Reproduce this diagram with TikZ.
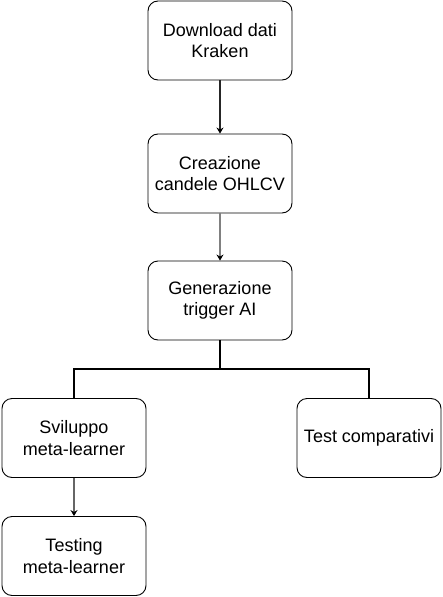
\documentclass[tikz,border=0pt]{standalone}
\usepackage{fontspec}
\setmainfont{Liberation Sans}
\usetikzlibrary{arrows.meta}

\begin{document}
\begin{tikzpicture}[x=1pt, y=-1pt,
	box/.style={draw, line width=0.9pt, rounded corners=10pt, minimum width=144pt, minimum height=79pt, align=center, inner sep=0pt, font=\fontsize{18}{21.5}\selectfont},
	link/.style={line width=1.6pt, arrows={-{Stealth[length=6pt,width=7pt,color=black]}}}]
	\useasboundingbox (0,0) rectangle (442,597);
	\node [box] (kraken) at (220,40.5) {Download dati\\Kraken};
	\node [box] (ohlcv) at (220,173.5) {Creazione\\candele OHLCV};
	\node [box] (trigger) at (220,300.5) {Generazione\\trigger AI};
	\node [box] (meta) at (74,438) {Sviluppo\\meta-learner};
	\node [box] (compare) at (369,438) {Test comparativi};
	\node [box] (testing) at (74,556) {Testing\\meta-learner};
	\coordinate (split) at (220,369);
	\draw [link, black!85] (kraken) -- (ohlcv);
	\draw [link, black!50] (ohlcv) -- (trigger);
	\draw [line width=1.8pt] (trigger) -- (split) -| (meta.north);
	\draw [line width=1.8pt] (split) -| (compare.north);
	\draw [link, line width=1.2pt, black!60] (meta) -- (testing);
\end{tikzpicture}
\end{document}
